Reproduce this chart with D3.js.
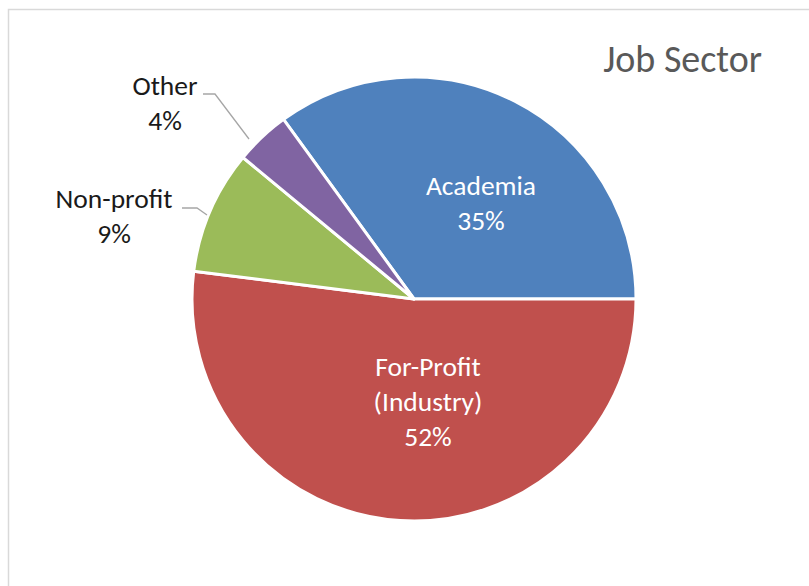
<!DOCTYPE html>
<html>
<head>
<meta charset="utf-8">
<script src="https://cdn.jsdelivr.net/npm/d3@7"></script>
<style>
  html, body { margin: 0; padding: 0; background: #fff; }
  svg { display: block; }
  text { font-family: Carlito, Lato, "Open Sans", sans-serif; }
</style>
</head>
<body>
<svg id="chart" width="809" height="586"></svg>
<script>
// ---- data ----
const categories = ["Academia", "For-Profit (Industry)", "Non-profit", "Other"];
const labelLines = [["Academia"], ["For-Profit", "(Industry)"], ["Non-profit"], ["Other"]];
const values = [35, 52, 9, 4];
const colors = ["#4F81BD", "#C0504D", "#9BBB59", "#8064A2"];
const titleText = "Job Sector";

// ---- layout ----
const W = 809, H = 586;
const cx = 414, cy = 299, R = 222;
const startDeg = -36;
// label anchors (offset from center) and whether inside
const labelLayout = [
  { dx: 67, dy: -104, inside: true },
  { dx: 14, dy: 77, inside: true },
  { dx: -300, dy: -91, inside: false, leader: [[-232, -91], [-217, -91], [-207, -84]] },
  { dx: -249, dy: -204, inside: false, leader: [[-211, -205], [-199, -205], [-165, -160]] }
];
const lineH = 35;

const svg = d3.select("#chart");
svg.append("rect").attr("x", 0).attr("y", 0).attr("width", W).attr("height", H).attr("fill", "#fff");
// chart frame
svg.append("rect").attr("x", 8.5).attr("y", 9.5).attr("width", W + 20).attr("height", H + 20)
  .attr("fill", "none").attr("stroke", "#d9d9d9").attr("stroke-width", 1.5);

const total = d3.sum(values);
const pie = d3.pie().sort(null)
  .startAngle(startDeg * Math.PI / 180)
  .endAngle(startDeg * Math.PI / 180 + 2 * Math.PI);
const arcs = pie(values);
const arc = d3.arc().innerRadius(0).outerRadius(R);

const g = svg.append("g").attr("transform", `translate(${cx},${cy})`);
g.selectAll("path.slice").data(arcs).join("path")
  .attr("class", "slice")
  .attr("d", arc)
  .attr("fill", (d, i) => colors[i])
  .attr("stroke", "#fff")
  .attr("stroke-width", 3)
  .attr("stroke-linejoin", "round");

// leader lines
labelLayout.forEach((L, i) => {
  if (!L.leader) return;
  g.append("polyline")
    .attr("points", L.leader.map(p => p.join(",")).join(" "))
    .attr("fill", "none").attr("stroke", "#a6a6a6").attr("stroke-width", 1.3);
});

// labels
const fmt = v => Math.round(v / total * 100) + "%";
arcs.forEach((d, i) => {
  const L = labelLayout[i];
  const lines = labelLines[i].concat([fmt(values[i])]);
  const t = g.append("text")
    .attr("text-anchor", "middle")
    .attr("font-size", 27.5)
    .attr("fill", L.inside ? "#ffffff" : "#1a1a1a");
  lines.forEach((s, k) => {
    t.append("tspan").attr("x", L.dx).attr("y", L.dy + k * lineH).text(s);
  });
});

// title
svg.append("text")
  .attr("x", 762).attr("y", 72)
  .attr("text-anchor", "end")
  .attr("font-size", 38)
  .attr("fill", "#595959")
  .text(titleText);
</script>
</body>
</html>
